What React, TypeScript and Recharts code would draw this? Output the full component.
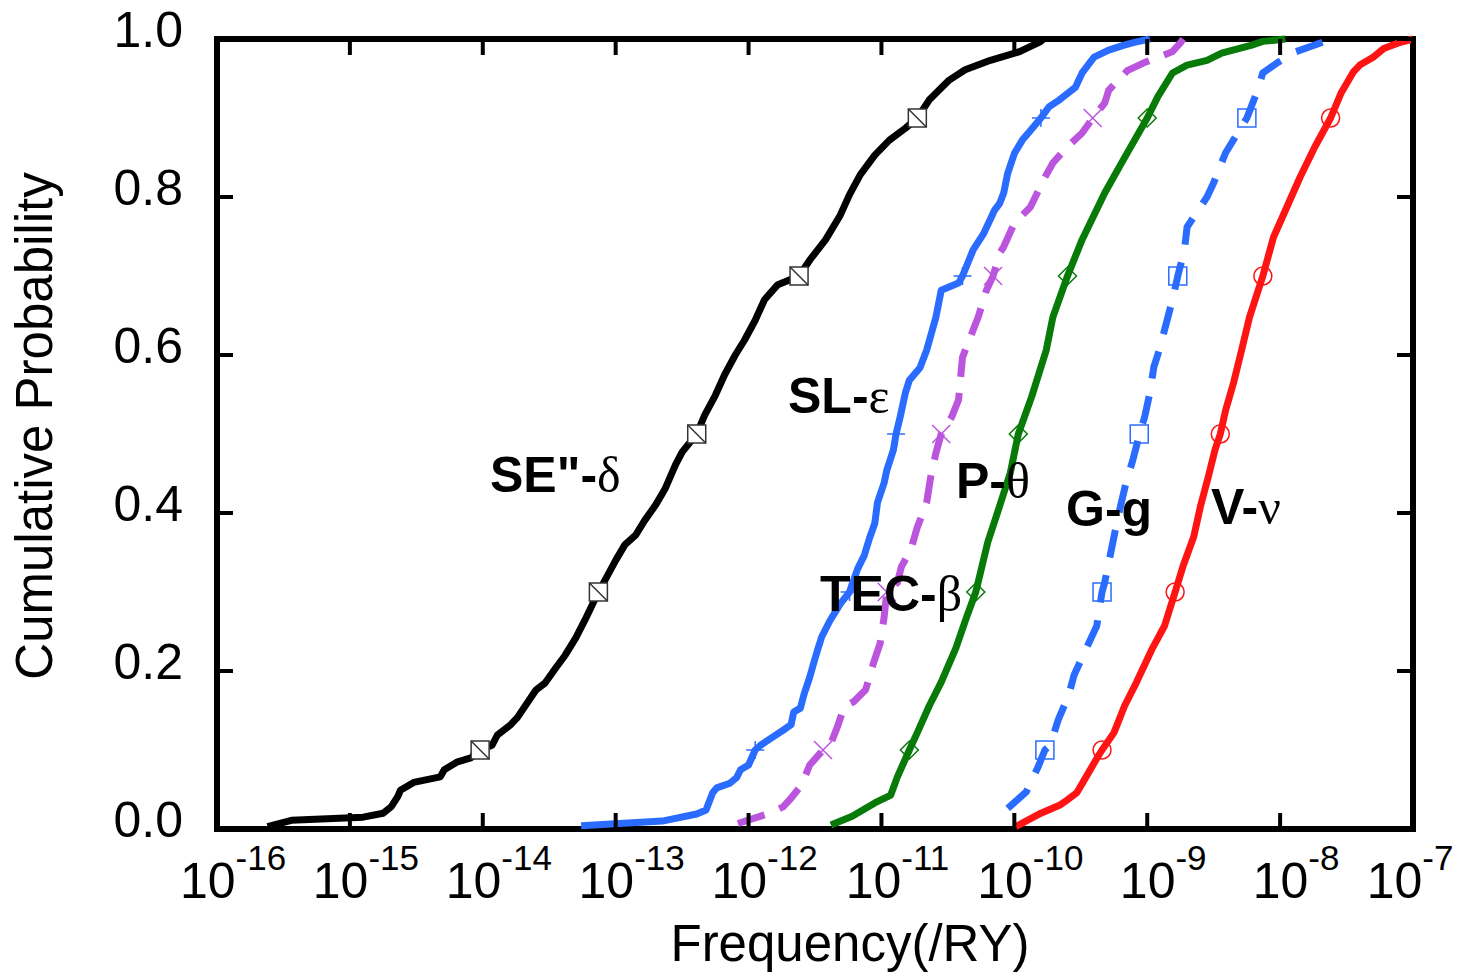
import { LineChart, Line, XAxis, YAxis, ReferenceArea } from 'recharts';

// probabilities where a marker is drawn on each curve
const MARKER_PROBS = [0.1, 0.3, 0.5, 0.7, 0.9];

const xTicks = [-16, -15, -14, -13, -12, -11, -10, -9, -8, -7];
const yTicks = [0, 0.2, 0.4, 0.6, 0.8, 1.0];

// SE"-δ  (log10 of frequency /RY, cumulative probability)
const seFreqExp = [
  -15.62, -15.44, -14.90, -14.75, -14.69, -14.64, -14.62, -14.52, -14.32, -14.29,
  -14.19, -14.09, -14.02, -13.93, -13.89, -13.79, -13.74, -13.60, -13.53, -13.45,
  -13.38, -13.30, -13.23, -13.13, -13.08, -13.00, -12.93, -12.85, -12.78, -12.70,
  -12.63, -12.55, -12.50, -12.39, -12.33, -12.25, -12.18, -12.10, -12.03, -11.95,
  -11.88, -11.78, -11.62, -11.54, -11.42, -11.31, -11.24, -11.16, -11.05, -10.94,
  -10.82, -10.73, -10.64, -10.49, -10.37, -10.18, -9.96, -9.81, -9.78
];
const seProb = [
  0.003, 0.011, 0.015, 0.020, 0.028, 0.041, 0.049, 0.059, 0.066, 0.075,
  0.085, 0.090, 0.1, 0.106, 0.119, 0.132, 0.141, 0.176, 0.185, 0.204,
  0.22, 0.242, 0.265, 0.3, 0.315, 0.34, 0.36, 0.372, 0.391, 0.41,
  0.43, 0.461, 0.477, 0.5, 0.524, 0.549, 0.575, 0.6, 0.619, 0.644,
  0.67, 0.689, 0.7, 0.72, 0.746, 0.777, 0.803, 0.828, 0.853, 0.872,
  0.887, 0.9, 0.923, 0.948, 0.961, 0.973, 0.984, 0.996, 1.0
];

// SL-ε
const slFreqExp = [
  -13.26, -12.65, -12.39, -12.32, -12.27, -12.24, -12.14, -12.09, -12.06, -12.00,
  -11.95, -11.91, -11.83, -11.74, -11.68, -11.66, -11.61, -11.58, -11.54, -11.51,
  -11.48, -11.45, -11.39, -11.31, -11.24, -11.18, -11.13, -11.09, -11.05, -11.03,
  -10.98, -10.96, -10.91, -10.89, -10.86, -10.82, -10.79, -10.71, -10.66, -10.59,
  -10.55, -10.42, -10.39, -10.31, -10.23, -10.15, -10.11, -10.08, -10.05, -10.00,
  -9.94, -9.88, -9.80, -9.74, -9.66, -9.54, -9.49, -9.40, -9.29, -9.18,
  -9.09, -8.98
];
const slProb = [
  0.004, 0.010, 0.019, 0.024, 0.046, 0.052, 0.058, 0.065, 0.075, 0.081,
  0.1, 0.106, 0.115, 0.125, 0.132, 0.148, 0.153, 0.172, 0.192, 0.210,
  0.227, 0.243, 0.263, 0.285, 0.3, 0.329, 0.346, 0.368, 0.387, 0.413,
  0.438, 0.454, 0.480, 0.5, 0.521, 0.552, 0.568, 0.584, 0.606, 0.648,
  0.682, 0.691, 0.7, 0.733, 0.754, 0.783, 0.792, 0.805, 0.830, 0.855,
  0.872, 0.884, 0.9, 0.914, 0.923, 0.939, 0.957, 0.977, 0.986, 0.992,
  0.996, 1.0
];

// TEC-β
const tecFreqExp = [
  -12.08, -11.86, -11.74, -11.68, -11.60, -11.54, -11.44, -11.39, -11.33, -11.28,
  -11.21, -11.12, -11.09, -11.06, -11.01, -10.98, -10.96, -10.88, -10.85, -10.78,
  -10.73, -10.66, -10.63, -10.59, -10.55, -10.47, -10.42, -10.39, -10.27, -10.21,
  -10.16, -10.11, -10.08, -10.00, -9.88, -9.77, -9.71, -9.61, -9.49, -9.41,
  -9.32, -9.29, -9.15, -9.01, -8.81, -8.75, -8.73
];
const tecProb = [
  0.007, 0.019, 0.028, 0.039, 0.056, 0.081, 0.1, 0.104, 0.130, 0.155,
  0.161, 0.176, 0.192, 0.210, 0.235, 0.268, 0.3, 0.312, 0.332, 0.353,
  0.382, 0.413, 0.445, 0.476, 0.5, 0.522, 0.543, 0.597, 0.649, 0.682,
  0.7, 0.729, 0.737, 0.767, 0.787, 0.825, 0.843, 0.862, 0.881, 0.9,
  0.919, 0.935, 0.960, 0.971, 0.984, 0.995, 1.0
];

// P-θ
const pFreqExp = [
  -11.38, -11.22, -11.05, -10.93, -10.88, -10.79, -10.73, -10.64, -10.55, -10.44,
  -10.36, -10.29, -10.20, -10.12, -10.03, -9.97, -9.87, -9.76, -9.71, -9.60,
  -9.49, -9.32, -9.18, -9.00, -8.92, -8.81, -8.70, -8.55, -8.44, -8.22,
  -8.13, -7.96
];
const pProb = [
  0.005, 0.016, 0.033, 0.043, 0.066, 0.1, 0.122, 0.156, 0.186, 0.229,
  0.268, 0.3, 0.363, 0.404, 0.451, 0.5, 0.547, 0.606, 0.648, 0.7,
  0.746, 0.805, 0.847, 0.9, 0.927, 0.957, 0.967, 0.973, 0.982, 0.992,
  0.997, 1.0
];

// G-g
const gFreqExp = [
  -10.05, -9.91, -9.82, -9.77, -9.73, -9.67, -9.59, -9.55, -9.46, -9.38,
  -9.34, -9.32, -9.28, -9.22, -9.16, -9.11, -9.07, -9.06, -9.02, -8.98,
  -8.95, -8.91, -8.81, -8.77, -8.72, -8.70, -8.55, -8.50, -8.41, -8.33,
  -8.25, -8.17, -8.13, -8.02, -7.88, -7.68, -7.62
];
const gProb = [
  0.026, 0.047, 0.079, 0.1, 0.106, 0.138, 0.170, 0.195, 0.228, 0.257,
  0.3, 0.312, 0.345, 0.395, 0.438, 0.466, 0.492, 0.5, 0.521, 0.552,
  0.585, 0.606, 0.670, 0.7, 0.733, 0.762, 0.8, 0.818, 0.856, 0.878,
  0.9, 0.935, 0.957, 0.970, 0.984, 0.996, 1.0
];

// V-ν
const vFreqExp = [
  -9.99, -9.80, -9.66, -9.60, -9.53, -9.46, -9.37, -9.34, -9.25, -9.17,
  -9.08, -8.96, -8.87, -8.79, -8.73, -8.65, -8.60, -8.54, -8.49, -8.45,
  -8.41, -8.35, -8.29, -8.23, -8.13, -8.05, -7.95, -7.85, -7.74, -7.62,
  -7.54, -7.45, -7.40, -7.30, -7.22, -7.11, -7.00
];
const vProb = [
  0.003, 0.020, 0.030, 0.037, 0.046, 0.066, 0.092, 0.1, 0.122, 0.156,
  0.186, 0.229, 0.257, 0.3, 0.333, 0.370, 0.408, 0.446, 0.480, 0.5,
  0.530, 0.565, 0.606, 0.648, 0.7, 0.749, 0.787, 0.825, 0.863, 0.9,
  0.932, 0.958, 0.967, 0.977, 0.988, 0.995, 1.0
];

const toRows = (exps: number[], probs: number[]) => exps.map((x, i) => ({ x, p: probs[i] }));

const FONT = 'Liberation Sans, Arial, Helvetica, sans-serif';
const GREEK_FONT = 'Liberation Serif, Times New Roman, serif';

const PLOT_W = 1196;
const PLOT_H = 790;
const TICK_LEN = 16;
const LINE_W = 7;

const BLUE = '#2a6cff';
const PURPLE = '#bb55dd';
const GREEN = '#087a08';
const RED = '#ff1414';

const makeDot = (kind: string, color: string) => (props: any) => {
  const { cx, cy, payload, index } = props;
  const key = `${kind}-${index}`;
  if (!payload || !MARKER_PROBS.includes(payload.p)) return <g key={key} />;
  const s = 9;
  switch (kind) {
    case 'squareSlash':
      return (
        <g key={key}>
          <rect x={cx - s} y={cy - s} width={2 * s} height={2 * s} fill="#fff" stroke="#333" strokeWidth={1.5} />
          <line x1={cx - s} y1={cy - s} x2={cx + s} y2={cy + s} stroke="#333" strokeWidth={1.5} />
        </g>
      );
    case 'plus':
      return (
        <g key={key} stroke={color} strokeWidth={1.5}>
          <line x1={cx - s} y1={cy} x2={cx + s} y2={cy} />
          <line x1={cx} y1={cy - s} x2={cx} y2={cy + s} />
        </g>
      );
    case 'cross':
      return (
        <g key={key} stroke={color} strokeWidth={1.5}>
          <line x1={cx - s} y1={cy - s} x2={cx + s} y2={cy + s} />
          <line x1={cx - s} y1={cy + s} x2={cx + s} y2={cy - s} />
        </g>
      );
    case 'diamond':
      return (
        <polygon
          key={key}
          points={`${cx},${cy - s} ${cx + s},${cy} ${cx},${cy + s} ${cx - s},${cy}`}
          fill="none"
          stroke={color}
          strokeWidth={1.5}
        />
      );
    case 'square':
      return <rect key={key} x={cx - s} y={cy - s} width={2 * s} height={2 * s} fill="none" stroke={color} strokeWidth={1.5} />;
    default:
      return <circle key={key} cx={cx} cy={cy} r={s} fill="none" stroke={color} strokeWidth={1.5} />;
  }
};

const XTick = (props: any) => {
  const { x, y, payload } = props;
  const v = payload.value;
  const cx = v === -7 ? x - 3 : x + 16;
  return (
    <g>
      <line x1={x} y1={y} x2={x} y2={y - TICK_LEN} stroke="#000" strokeWidth={4} />
      <line x1={x} y1={y - PLOT_H} x2={x} y2={y - PLOT_H + TICK_LEN} stroke="#000" strokeWidth={4} />
      <text x={cx} y={y + 69} textAnchor="middle" fontFamily={FONT} fontSize={50} fill="#000">
        <tspan>10</tspan>
        <tspan dy={-28} fontSize={35}>{`${v}`}</tspan>
      </text>
    </g>
  );
};

const YTick = (props: any) => {
  const { x, y, payload } = props;
  return (
    <g>
      <line x1={x} y1={y} x2={x + TICK_LEN} y2={y} stroke="#000" strokeWidth={4} />
      <line x1={x + PLOT_W - TICK_LEN} y1={y} x2={x + PLOT_W} y2={y} stroke="#000" strokeWidth={4} />
      <text x={x - 34} y={y + 8} textAnchor="end" fontFamily={FONT} fontSize={50} fill="#000">
        {Number(payload.value).toFixed(1)}
      </text>
    </g>
  );
};

const curveLabels = [
  { x: 490, y: 492, text: 'SE"-', greek: 'δ' },
  { x: 788, y: 413, text: 'SL-', greek: 'ε' },
  { x: 956, y: 498, text: 'P-', greek: 'θ' },
  { x: 1066, y: 526, text: 'G-g', greek: '' },
  { x: 1211, y: 524, text: 'V-', greek: 'ν' },
  { x: 820, y: 611, text: 'TEC-', greek: 'β' }
];

export default function App() {
  return (
    <div style={{ position: 'absolute', left: 0, top: 0, width: 1459, height: 972, background: '#fff' }}>
      <LineChart width={1459} height={972} margin={{ top: 39, right: 46, bottom: 0, left: 0 }}>
        <XAxis
          type="number"
          dataKey="x"
          domain={[-16, -7]}
          ticks={xTicks}
          interval={0}
          allowDataOverflow
          height={143}
          axisLine={false}
          tickLine={false}
          tickSize={0}
          tickMargin={0}
          tick={(p: any) => <XTick {...p} />}
        />
        <YAxis
          type="number"
          domain={[0, 1]}
          ticks={yTicks}
          interval={0}
          width={217}
          axisLine={false}
          tickLine={false}
          tickSize={0}
          tickMargin={0}
          tick={(p: any) => <YTick {...p} />}
        />
        <ReferenceArea x1={-16} x2={-7} y1={0} y2={1} fill="none" fillOpacity={0} stroke="#000" strokeWidth={6} />
        <Line data={toRows(seFreqExp, seProb)} dataKey="p" stroke="#000" strokeWidth={LINE_W} strokeLinejoin="round"
          dot={makeDot('squareSlash', '#000')} activeDot={false} isAnimationActive={false} />
        <Line data={toRows(slFreqExp, slProb)} dataKey="p" stroke={BLUE} strokeWidth={LINE_W} strokeLinejoin="round"
          dot={makeDot('plus', BLUE)} activeDot={false} isAnimationActive={false} />
        <Line data={toRows(tecFreqExp, tecProb)} dataKey="p" stroke={PURPLE} strokeWidth={LINE_W} strokeDasharray="28 16"
          dot={makeDot('cross', PURPLE)} activeDot={false} isAnimationActive={false} />
        <Line data={toRows(pFreqExp, pProb)} dataKey="p" stroke={GREEN} strokeWidth={LINE_W} strokeLinejoin="round"
          dot={makeDot('diamond', GREEN)} activeDot={false} isAnimationActive={false} />
        <Line data={toRows(gFreqExp, gProb)} dataKey="p" stroke={BLUE} strokeWidth={LINE_W} strokeDasharray="28 18"
          dot={makeDot('square', BLUE)} activeDot={false} isAnimationActive={false} />
        <Line data={toRows(vFreqExp, vProb)} dataKey="p" stroke={RED} strokeWidth={LINE_W} strokeLinejoin="round"
          dot={makeDot('circle', RED)} activeDot={false} isAnimationActive={false} />
      </LineChart>
      <svg width={1459} height={972} style={{ position: 'absolute', left: 0, top: 0, pointerEvents: 'none' }}>
        {curveLabels.map((l) => (
          <text key={l.text} x={l.x} y={l.y} fontSize={50} fill="#000">
            <tspan fontFamily={FONT} fontWeight="bold">{l.text}</tspan>
            {l.greek && <tspan fontFamily={GREEK_FONT}>{l.greek}</tspan>}
          </text>
        ))}
        <text x={850} y={961} textAnchor="middle" fontFamily={FONT} fontSize={51} fill="#000">
          Frequency(/RY)
        </text>
        <text x={52} y={426} textAnchor="middle" fontFamily={FONT} fontSize={51} fill="#000" transform="rotate(-90 52 426)">
          Cumulative Probability
        </text>
      </svg>
    </div>
  );
}
